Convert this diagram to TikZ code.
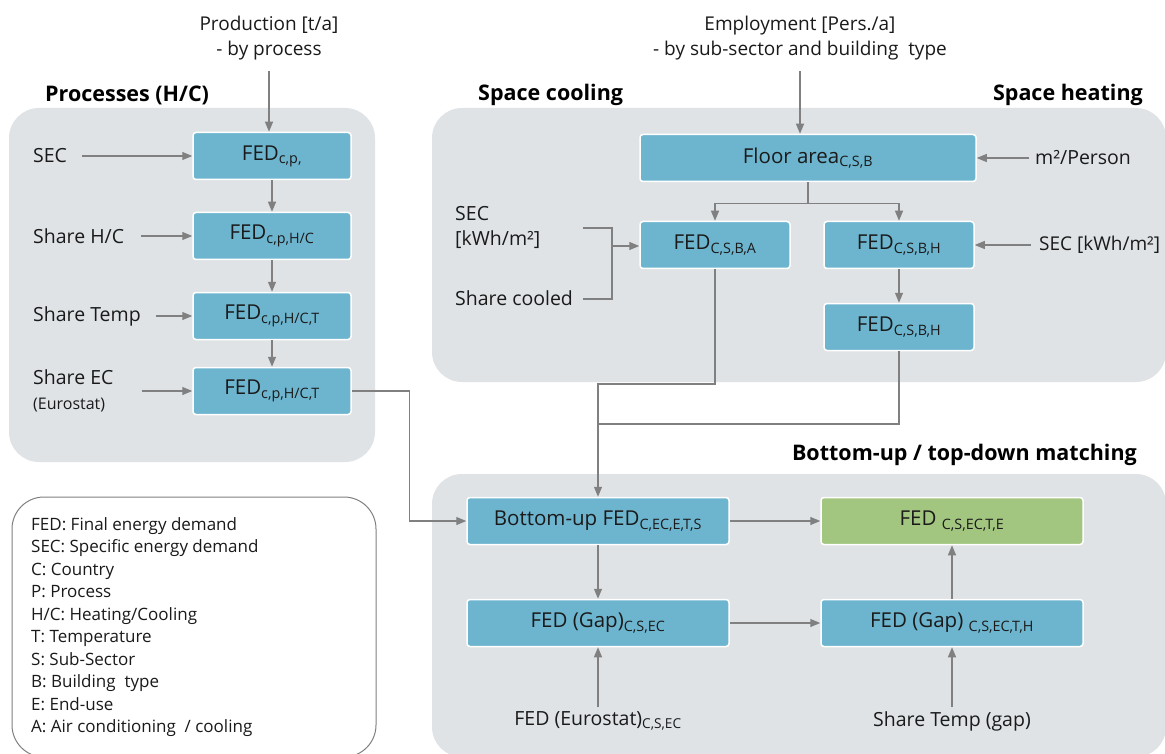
\documentclass[tikz,border=0pt]{standalone}
\usepackage{fontspec}
\setmainfont{Open Sans}
\usetikzlibrary{arrows.meta}
\definecolor{panelgray}{HTML}{DFE3E6}
\definecolor{fedblue}{HTML}{6DB5CF}
\definecolor{fedgreen}{HTML}{A2C67F}
\definecolor{flowgray}{HTML}{808080}
\definecolor{ink}{HTML}{1A1A1A}
\tikzset{
	fed/.style={draw=white,line width=1.5pt,fill=fedblue,rounded corners=3pt,
		minimum height=47pt,inner sep=0pt,text=ink,font=\fontsize{20.5}{24}\selectfont},
	panel/.style={fill=panelgray,rounded corners=30pt},
	inlabel/.style={inner sep=0pt,align=left,text=ink,font=\fontsize{19.5}{25}\selectfont},
	title/.style={inner sep=0pt,text=black,font=\fontsize{21.5}{25}\selectfont\bfseries},
	legend/.style={inner sep=0pt,text=ink,font=\fontsize{17}{20}\selectfont},
	flow/.style={draw=flowgray,line width=1.2pt},
	arr/.style={flow,-{Triangle[length=10pt,width=8pt]}},
}
\begin{document}
\begin{tikzpicture}[x=1pt,y=-1pt]
	\useasboundingbox (0,0) rectangle (1165,754);
	% grey panels and legend frame
	\path[panel] (9,108) rectangle (375,462);
	\path[panel] (432,108) rectangle (1166,382);
	\path[panel] (432,474) rectangle (1166,757);
	\draw[flowgray,line width=1pt,fill=white,rounded corners=32pt] (12,497) rectangle (376,757);
	\node[title,anchor=west] at (45,95) {Processes (H/C)};
	\node[title,anchor=west] at (478,95) {Space cooling};
	\node[title,anchor=east] at (1143,95) {Space heating};
	\node[title,anchor=east] at (1137,455) {Bottom-up / top-down matching};
	% processes
	\node[inlabel,align=center,font=\fontsize{19}{25}\selectfont] (prod) at (269,38) {Production [t/a]\\- by process};
	\node[fed,minimum width=158pt] (p1) at (272,156) {FED\textsubscript{c,p,}};
	\node[fed,minimum width=158pt] (p2) at (272,236) {FED\textsubscript{c,p,H/C}};
	\node[fed,minimum width=158pt] (p3) at (272,316) {FED\textsubscript{c,p,H/C,T}};
	\node[fed,minimum width=158pt] (p4) at (272,391) {FED\textsubscript{c,p,H/C,T}};
	\node[inlabel,anchor=west] (sec) at (33,156) {SEC};
	\node[inlabel,anchor=west] (shhc) at (33,236) {Share H/C};
	\node[inlabel,anchor=west] (shtemp) at (33,316) {Share Temp};
	\node[inlabel,anchor=west] (shec) at (33,391) {Share EC\\{\fontsize{16}{25}\selectfont(Eurostat)}};
	\draw[arr,shorten <=11pt] (prod) -- (prod |- p1.north);
	\foreach \i[count=\j from 2] in {1,2,3}
	\draw[arr] (p\i) -- (p\j);
	\draw[arr,shorten <=15pt] (sec) -- (p1);
	\draw[arr,shorten <=17pt] (shhc) -- (p2);
	\draw[arr,shorten <=15pt] (shtemp) -- (p3);
	\draw[arr,shorten <=28pt] (shec) -- (p4);
	% space cooling / heating
	\node[inlabel,align=center,font=\fontsize{19}{25}\selectfont] (emp) at (800,38) {Employment [Pers./a]\\- by sub-sector and building\ \ type};
	\node[fed,minimum width=336pt] (floor) at (808,158) {Floor area\textsubscript{C,S,B}};
	\node[fed,minimum width=150pt] (feda) at (715,245) {FED\textsubscript{C,S,B,A}};
	\node[fed,minimum width=150pt] (fedh) at (899,245) {FED\textsubscript{C,S,B,H}};
	\node[fed,minimum width=150pt] (fedhb) at (899,327) {FED\textsubscript{C,S,B,H}};
	\node[inlabel,anchor=west] (m2p) at (1035,158) {m²/Person};
	\node[inlabel,anchor=west,font=\fontsize{19}{25}\selectfont] (secr) at (1039,245) {SEC [kWh/m²]};
	\node[inlabel,anchor=west] (secc) at (455,227) {SEC\\{[kWh/m²]}};
	\node[inlabel,anchor=west] (shcool) at (455,298) {Share cooled};
	\draw[arr,shorten <=11pt] (emp) -- (emp |- floor.north);
	\draw[flow] (floor.south) -- ++(0,21) coordinate (split);
	\draw[arr] (split) -| (feda.north);
	\draw[arr] (split) -| (fedh.north);
	\draw[arr] (fedh) -- (fedhb);
	\draw[arr,shorten <=6pt] (m2p) -- (m2p -| floor.east);
	\draw[arr,shorten <=8pt] (secr) -- (secr -| fedh.east);
	\coordinate (brktop) at (583,228);
	\coordinate (brkbot) at (583,299);
	\coordinate (brk) at (612,246);
	\draw[flow] (brktop) -| (brk) |- (brkbot);
	\draw[arr] (brk) -- (brk -| feda.west);
	% bottom-up / top-down matching
	\node[fed,minimum width=262pt] (bu) at (598,521) {Bottom-up FED\textsubscript{C,EC,E,T,S}};
	\node[fed,fill=fedgreen,minimum width=262pt] (total) at (952,521) {FED \textsubscript{C,S,EC,T,E}};
	\node[fed,minimum width=262pt] (gap) at (598,623) {FED (Gap)\textsubscript{C,S,EC}};
	\node[fed,minimum width=262pt] (gapt) at (952,623) {FED (Gap) \textsubscript{C,S,EC,T,H}};
	\node[inlabel] (euro) at (598,721) {FED (Eurostat)\textsubscript{C,S,EC}};
	\node[inlabel] (shgap) at (952,721) {Share Temp (gap)};
	\coordinate (cjoin) at (598,384);
	\coordinate (hjoin) at (598,424);
	\draw[arr] (feda.south) |- (cjoin) -- (bu.north);
	\draw[flow] (fedhb.south) |- (hjoin);
	\draw[arr] (p4.east) -- ++(58,0) |- (bu.west);
	\draw[arr] (bu) -- (total);
	\draw[arr] (bu) -- (gap);
	\draw[arr] (gap) -- (gapt);
	\draw[arr] (gapt) -- (total);
	\draw[arr,shorten <=4pt] (euro) -- (euro |- gap.south);
	\draw[arr,shorten <=4pt] (shgap) -- (shgap |- gapt.south);
	% legend
	\foreach \txt[count=\i from 0] in {FED: Final energy demand,SEC: Specific energy demand,
		C: Country,P: Process,H/C: Heating/Cooling,T: Temperature,S: Sub-Sector,
		B: Building\ \ type,E: End-use,A: Air conditioning\ \ / cooling}
	\node[legend,anchor=base west] (leg\i) at (31,530+22.5*\i) {\txt};
\end{tikzpicture}
\end{document}
